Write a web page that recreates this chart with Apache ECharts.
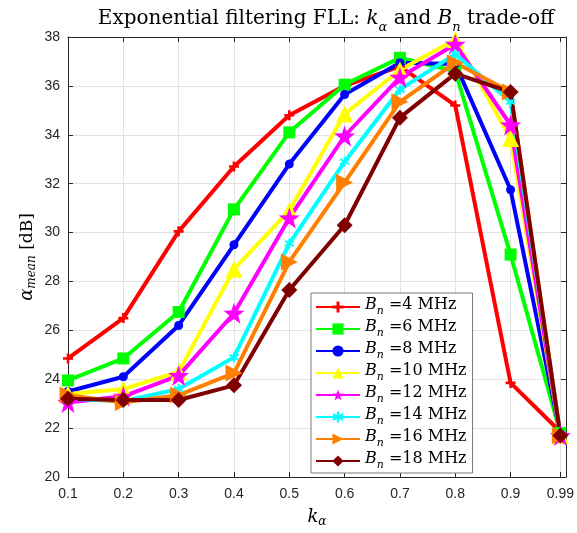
<!DOCTYPE html>
<html>
<head>
<meta charset="utf-8">
<script src="https://cdn.jsdelivr.net/npm/echarts@6/dist/echarts.min.js"></script>
<style>
  html, body { margin: 0; padding: 0; background: #fff; }
  #chart { width: 577px; height: 533px; }
</style>
</head>
<body>
<div id="chart"></div>
<script>
// k_alpha values on the x axis
const kAlpha = [0.1, 0.2, 0.3, 0.4, 0.5, 0.6, 0.7, 0.8, 0.9, 0.99]
const yTicks = [20, 22, 24, 26, 28, 30, 32, 34, 36, 38]

// alpha_mean [dB] per noise bandwidth
const bn4 = [24.85, 26.5, 30.05, 32.7, 34.8, 36.0, 36.8, 35.2, 23.85, 21.85]
const bn6 = [23.95, 24.85, 26.75, 30.95, 34.1, 36.05, 37.15, 36.6, 29.1, 21.8]
const bn8 = [23.5, 24.1, 26.2, 29.5, 32.8, 35.65, 36.95, 36.9, 31.75, 21.75]
const bn10 = [23.4, 23.6, 24.3, 28.5, 30.9, 34.85, 36.65, 37.9, 33.85, 21.7]
const bn12 = [23.05, 23.3, 24.15, 26.7, 30.6, 33.95, 36.35, 37.7, 34.4, 21.7]
const bn14 = [23.2, 23.1, 23.6, 24.9, 29.55, 32.9, 35.85, 37.3, 35.35, 21.75]
const bn16 = [23.35, 23.05, 23.35, 24.25, 28.8, 32.05, 35.35, 36.95, 35.75, 21.7]
const bn18 = [23.2, 23.15, 23.15, 23.75, 27.65, 30.3, 34.7, 36.5, 35.75, 21.7]

const bandwidths = ['4', '6', '8', '10', '12', '14', '16', '18']

const chart = echarts.init(document.getElementById('chart'))

const crossPath = 'path://M-1.3,-5L1.3,-5L1.3,-1.3L5,-1.3L5,1.3L1.3,1.3L1.3,5L-1.3,5L-1.3,1.3L-5,1.3L-5,-1.3L-1.3,-1.3Z'
const starPath = 'path://M0,-10L2.35,-3.24L9.51,-3.09L3.8,1.23L5.88,8.09L0,4L-5.88,8.09L-3.8,1.23L-9.51,-3.09L-2.35,-3.24Z'
const asteriskPath = 'path://M-1,-5L1,-5L1,-1.7L3.9,-3.4L4.9,-1.7L2,0L4.9,1.7L3.9,3.4L1,1.7L1,5L-1,5L-1,1.7L-3.9,3.4L-4.9,1.7L-2,0L-4.9,-1.7L-3.9,-3.4L-1,-1.7Z'

const seriesDefs = [
  { values: bn4, color: '#ff0000', symbol: crossPath, size: 10, rotate: 0 },
  { values: bn6, color: '#00ff00', symbol: 'rect', size: 12, rotate: 0 },
  { values: bn8, color: '#0000ff', symbol: 'circle', size: 9, rotate: 0 },
  { values: bn10, color: '#ffff00', symbol: 'triangle', size: 17, rotate: 0 },
  { values: bn12, color: '#ff00ff', symbol: starPath, size: 21, rotate: 0 },
  { values: bn14, color: '#00ffff', symbol: asteriskPath, size: 10, rotate: 0 },
  { values: bn16, color: '#ff8000', symbol: 'triangle', size: 17, rotate: -90 },
  { values: bn18, color: '#800000', symbol: 'diamond', size: 16, rotate: 0 }
]

const series = seriesDefs.map((s, i) => ({
  name: 'Bn' + bandwidths[i],
  type: 'line',
  data: kAlpha.map((k, j) => [k, s.values[j]]),
  symbol: s.symbol,
  symbolSize: s.size,
  symbolRotate: s.rotate,
  showAllSymbol: true,
  lineStyle: { color: s.color, width: 4 },
  itemStyle: { color: s.color, borderWidth: 0 },
  emphasis: { disabled: true },
  animation: false
}))

const tickFont = { fontFamily: 'Liberation Sans', fontSize: 14, color: '#262626' }
const serif = 'DejaVu Serif'

const option = {
  backgroundColor: '#fff',
  animation: false,
  title: {
    text: '{a|Exponential filtering FLL: }{i|k}{s|α}{a| and }{i|B}{s|n}{a| trade-off}',
    left: 321,
    top: 4,
    textAlign: 'center',
    textStyle: {
      fontWeight: 'normal',
      rich: {
        a: { fontFamily: serif, fontSize: 20, fontWeight: 'normal', color: '#000', lineHeight: 25, verticalAlign: 'top' },
        i: { fontFamily: serif, fontSize: 20, fontWeight: 'normal', fontStyle: 'italic', color: '#000', lineHeight: 25, verticalAlign: 'top' },
        s: { fontFamily: serif, fontSize: 13, fontWeight: 'normal', fontStyle: 'italic', color: '#000', lineHeight: 25, verticalAlign: 'bottom' }
      }
    }
  },
  grid: { left: 68, right: 8, top: 37, bottom: 52 },
  legend: {
    orient: 'vertical',
    left: 311,
    top: 293,
    padding: [4, 6, 2, 4],
    itemWidth: 44,
    itemHeight: 14,
    itemGap: 2,
    backgroundColor: '#fff',
    borderColor: '#7a7a7a',
    borderWidth: 1,
    borderRadius: 0,
    data: series.map(s => s.name),
    formatter: name => '{i|B}{s|n}{a| =' + name.slice(2) + ' MHz}',
    textStyle: {
      rich: {
        a: { fontFamily: serif, fontSize: 16, color: '#000', lineHeight: 20, verticalAlign: 'top' },
        i: { fontFamily: serif, fontSize: 16, fontStyle: 'italic', color: '#000', lineHeight: 20, verticalAlign: 'top' },
        s: { fontFamily: serif, fontSize: 11, fontStyle: 'italic', color: '#000', lineHeight: 20, verticalAlign: 'bottom' }
      }
    }
  },
  xAxis: [
    {
      type: 'value',
      min: 0.1,
      max: 1.0,
      name: '{i|k}{s|α}',
      nameLocation: 'middle',
      nameGap: 30,
      nameTextStyle: {
        rich: {
          i: { fontFamily: serif, fontSize: 18, fontStyle: 'italic', color: '#000' },
          s: { fontFamily: serif, fontSize: 12, fontStyle: 'italic', color: '#000', padding: [9, 0, 0, 0] }
        }
      },
      axisLine: { show: true, onZero: false, lineStyle: { color: '#262626', width: 1 } },
      axisTick: { show: true, inside: true, length: 5, customValues: kAlpha, lineStyle: { color: '#262626' } },
      axisLabel: { ...tickFont, margin: 10, customValues: kAlpha, formatter: v => String(+v.toFixed(2)) },
      splitLine: { show: true, lineStyle: { color: '#e3e3e3', width: 1 } }
    },
    {
      type: 'value',
      position: 'top',
      min: 0.1,
      max: 1.0,
      axisLine: { show: true, onZero: false, lineStyle: { color: '#262626', width: 1 } },
      axisTick: { show: true, inside: true, length: 5, customValues: kAlpha, lineStyle: { color: '#262626' } },
      axisLabel: { show: false },
      splitLine: { show: false }
    }
  ],
  yAxis: [
    {
      type: 'value',
      min: 20,
      max: 38,
      interval: 2,
      name: '{i|α}{s|mean}{a| [dB]}',
      nameLocation: 'middle',
      nameGap: 30,
      nameMoveOverlap: false,
      nameTextStyle: {
        rich: {
          a: { fontFamily: serif, fontSize: 17, color: '#000' },
          i: { fontFamily: serif, fontSize: 18, fontStyle: 'italic', color: '#000' },
          s: { fontFamily: serif, fontSize: 12, fontStyle: 'italic', color: '#000', padding: [9, 0, 0, 0] }
        }
      },
      axisLine: { show: true, onZero: false, lineStyle: { color: '#262626', width: 1 } },
      axisTick: { show: true, inside: true, length: 5, lineStyle: { color: '#262626' } },
      axisLabel: { ...tickFont, margin: 8 },
      splitLine: { show: true, lineStyle: { color: '#e3e3e3', width: 1 } }
    },
    {
      type: 'value',
      position: 'right',
      min: 20,
      max: 38,
      interval: 2,
      axisLine: { show: true, onZero: false, lineStyle: { color: '#262626', width: 1 } },
      axisTick: { show: true, inside: true, length: 5, lineStyle: { color: '#262626' } },
      axisLabel: { show: false },
      splitLine: { show: false }
    }
  ],
  series
}

chart.setOption(option)
</script>
</body>
</html>
